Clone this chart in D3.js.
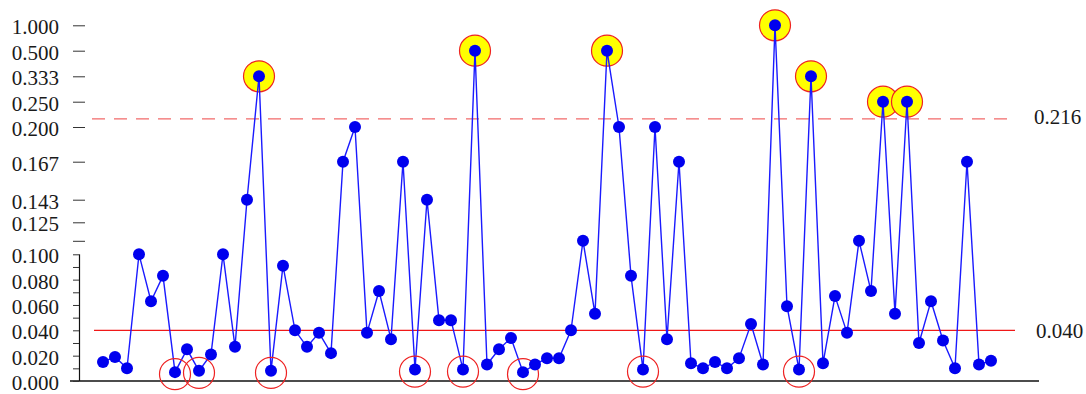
<!DOCTYPE html>
<html>
<head>
<meta charset="utf-8">
<script src="https://cdn.jsdelivr.net/npm/d3@7/dist/d3.min.js"></script>
<style>
  html, body { margin: 0; padding: 0; background: #fff; }
  svg { display: block; }
  text { font-family: "Liberation Serif", "Times New Roman", serif; fill: #1a1a1a; }
</style>
</head>
<body>
<svg id="chart" width="1086" height="394"></svg>
<script>
// Observed rate for each of the 75 samples
const values = [
  0.015, 0.019, 0.010, 0.100, 0.063, 0.083, 0.007, 0.025, 0.008, 0.021,
  0.100, 0.027, 0.143, 0.333, 0.008, 0.091, 0.040, 0.027, 0.038, 0.022,
  0.167, 0.200, 0.038, 0.071, 0.033, 0.167, 0.009, 0.143, 0.048, 0.048,
  0.009, 0.500, 0.013, 0.025, 0.034, 0.007, 0.013, 0.018, 0.018, 0.040,
  0.111, 0.053, 0.500, 0.200, 0.083, 0.009, 0.200, 0.033, 0.167, 0.014,
  0.010, 0.015, 0.010, 0.018, 0.045, 0.013, 1.000, 0.059, 0.009, 0.333,
  0.014, 0.067, 0.038, 0.111, 0.071, 0.250, 0.053, 0.250, 0.030, 0.063,
  0.032, 0.010, 0.167, 0.013, 0.016
];
const samples = values.map((_, i) => i + 1);

// Control limits
const centerLine = 0.040;
const upperLimit = 0.216;
const lowerSignal = 0.0095;   // rates below this are flagged as unusually low

// Axis ticks: linear lower band, reciprocal (1/n) upper band
const lowerTicks = [0, 0.01, 0.02, 0.03, 0.04, 0.05, 0.06, 0.07, 0.08, 0.09, 0.10];
const lowerLabels = ["0.000", "", "0.020", "", "0.040", "", "0.060", "", "0.080", "", "0.100"];
const upperTicks = [0.111, 0.125, 0.143, 0.167, 0.200, 0.250, 0.333, 0.500, 1.000];
const upperLabels = ["", "0.125", "0.143", "0.167", "0.200", "0.250", "0.333", "0.500", "1.000"];

const svg = d3.select("#chart");

// Piecewise scale: linear up to 0.1, then stretched breakpoints at 1/n
const y = d3.scaleLinear()
  .domain([0, 0.1, 0.111, 0.125, 0.143, 0.167, 0.2, 0.25, 0.333, 0.5, 1])
  .range([381, 254.3, 240.8, 222.3, 199.7, 161.7, 127, 101.7, 76.3, 50.7, 25.3]);

const x = d3.scaleLinear().domain([1, 75]).range([103, 991]);

// X baseline
svg.append("line")
  .attr("x1", 70).attr("x2", 1039)
  .attr("y1", y(0)).attr("y2", y(0))
  .attr("stroke", "#111").attr("stroke-width", 1.3);

// Lower (linear) axis with minor ticks
const lowerAxis = d3.axisLeft(y)
  .tickValues(lowerTicks)
  .tickFormat((d, i) => lowerLabels[i])
  .tickSize(6)
  .tickSizeOuter(0)
  .tickPadding(14);

const gLow = svg.append("g").attr("transform", "translate(79,0)").call(lowerAxis);
gLow.select(".domain").attr("stroke", "#111").attr("stroke-width", 1.2)
  .attr("d", `M0.5,${y(0.1)}V${y(0)}`);
gLow.selectAll(".tick line").attr("stroke", "#333");
gLow.selectAll(".tick text").attr("font-size", 21).attr("dy", "0.4em")
  .attr("font-family", "Liberation Serif, serif").attr("fill", "#1a1a1a");

// Upper (reciprocal) ticks drawn as free-standing dashes
const upperAxis = d3.axisLeft(y)
  .tickValues(upperTicks)
  .tickFormat((d, i) => upperLabels[i])
  .tickSize(12)
  .tickSizeOuter(0)
  .tickPadding(14);

const gUp = svg.append("g").attr("transform", "translate(85,0)").call(upperAxis);
gUp.select(".domain").remove();
gUp.selectAll(".tick line").attr("stroke", "#333");
gUp.selectAll(".tick text").attr("font-size", 21).attr("dy", "0.4em")
  .attr("font-family", "Liberation Serif, serif").attr("fill", "#1a1a1a");

// Control limit lines
svg.append("line")
  .attr("x1", 92).attr("x2", 1015)
  .attr("y1", y(upperLimit)).attr("y2", y(upperLimit))
  .attr("stroke", "#f26a6a").attr("stroke-width", 1.3)
  .attr("stroke-dasharray", "13,9");

svg.append("line")
  .attr("x1", 94).attr("x2", 1015)
  .attr("y1", y(centerLine)).attr("y2", y(centerLine))
  .attr("stroke", "#f01818").attr("stroke-width", 1.3);

svg.append("text")
  .attr("x", 1034).attr("y", y(upperLimit) - 2).attr("dy", "0.35em")
  .attr("font-size", 21).text(d3.format(".3f")(upperLimit));

svg.append("text")
  .attr("x", 1036).attr("y", y(centerLine)).attr("dy", "0.35em")
  .attr("font-size", 21).text(d3.format(".3f")(centerLine));

const pts = samples.map((s, i) => ({ s, v: values[i] }));

// Highlight halos for points above the upper limit
svg.append("g").selectAll("circle")
  .data(pts.filter(p => p.v > upperLimit))
  .join("circle")
  .attr("cx", p => x(p.s)).attr("cy", p => y(p.v))
  .attr("r", 15.5)
  .attr("fill", "#ffff00")
  .attr("stroke", "#ee2222").attr("stroke-width", 1.2);

// Series line
svg.append("path")
  .datum(pts)
  .attr("fill", "none")
  .attr("stroke", "#1a1aff")
  .attr("stroke-width", 1.4)
  .attr("d", d3.line().x(p => x(p.s)).y(p => y(p.v)));

// Open rings for unusually low rates
svg.append("g").selectAll("circle")
  .data(pts.filter(p => p.v < lowerSignal))
  .join("circle")
  .attr("cx", p => x(p.s)).attr("cy", p => y(p.v) + 2)
  .attr("r", 15.5)
  .attr("fill", "none")
  .attr("stroke", "#ee2222").attr("stroke-width", 1.2);

// Data points
svg.append("g").selectAll("circle")
  .data(pts)
  .join("circle")
  .attr("cx", p => x(p.s)).attr("cy", p => y(p.v))
  .attr("r", 6)
  .attr("fill", "#0000ee");
</script>
</body>
</html>
